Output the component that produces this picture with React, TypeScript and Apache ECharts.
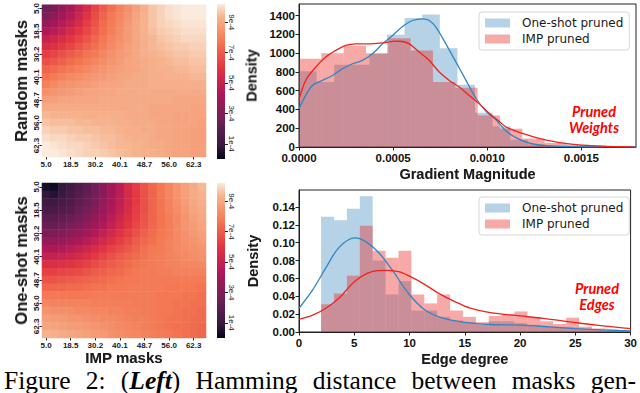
import React, { useEffect, useRef } from 'react';
import * as echarts from 'echarts';

// ---------- Heatmaps (values in units of 1e-5) ----------
const SPARSITY = ['5.0', '9.8', '14.3', '18.5', '22.6', '26.5', '30.2', '33.7', '37.0', '40.1', '43.1', '46.0', '48.7', '51.2', '53.7', '56.0', '58.2', '60.3', '62.3', '64.2'];

const HEAT_RANDOM = [
  [25, 29, 35, 41, 49, 56, 64, 70, 75, 80, 84, 88, 92, 96, 98, 100, 101, 102, 103, 103],
  [30, 34, 39, 45, 52, 59, 66, 72, 77, 81, 85, 89, 93, 96, 98, 100, 101, 102, 102, 102],
  [36, 40, 45, 50, 56, 62, 68, 74, 78, 82, 86, 90, 93, 96, 98, 99, 100, 101, 101, 101],
  [43, 46, 50, 55, 60, 65, 70, 75, 79, 83, 87, 90, 93, 95, 97, 98, 99, 100, 100, 100],
  [50, 53, 56, 60, 64, 68, 73, 77, 81, 84, 87, 90, 92, 94, 96, 97, 98, 99, 99, 99],
  [56, 58, 61, 64, 68, 72, 75, 79, 82, 85, 88, 90, 92, 94, 95, 96, 97, 97, 98, 98],
  [62, 64, 67, 70, 73, 76, 78, 81, 84, 86, 88, 90, 92, 93, 94, 95, 96, 96, 97, 97],
  [67, 69, 71, 74, 76, 79, 81, 83, 85, 87, 89, 90, 91, 92, 93, 94, 95, 95, 96, 96],
  [72, 74, 76, 78, 80, 82, 84, 85, 87, 88, 89, 90, 91, 92, 93, 93, 94, 94, 95, 95],
  [76, 78, 80, 82, 83, 85, 86, 87, 88, 89, 90, 91, 91, 92, 92, 93, 93, 93, 94, 94],
  [80, 82, 84, 85, 86, 87, 88, 89, 89, 90, 91, 91, 91, 92, 92, 92, 92, 92, 92, 92],
  [84, 85, 86, 87, 88, 89, 89, 90, 90, 91, 91, 91, 91, 91, 91, 91, 91, 91, 91, 91],
  [88, 88, 89, 89, 90, 90, 90, 91, 91, 91, 91, 91, 91, 91, 91, 91, 90, 90, 90, 90],
  [91, 91, 91, 91, 91, 91, 91, 91, 91, 91, 91, 91, 91, 90, 90, 90, 90, 90, 89, 89],
  [94, 93, 93, 93, 93, 92, 92, 92, 92, 92, 91, 91, 91, 90, 90, 90, 89, 89, 89, 89],
  [96, 95, 95, 95, 94, 94, 93, 93, 93, 92, 92, 91, 91, 91, 90, 90, 89, 89, 89, 88],
  [98, 97, 97, 96, 96, 95, 95, 94, 94, 93, 92, 92, 91, 91, 90, 90, 89, 89, 88, 88],
  [100, 99, 99, 98, 97, 97, 96, 95, 95, 94, 93, 92, 92, 91, 90, 90, 89, 89, 88, 88],
  [102, 101, 100, 99, 99, 98, 97, 96, 95, 94, 94, 93, 92, 91, 91, 90, 89, 89, 88, 88],
  [103, 102, 101, 100, 99, 98, 98, 97, 96, 95, 94, 93, 92, 92, 91, 90, 89, 89, 88, 88],
];

const HEAT_ONESHOT = [
  [3, 2, 8, 12, 16, 20, 26, 32, 40, 47, 56, 62, 68, 73, 77, 81, 85, 88, 91, 94],
  [8, 6, 10, 14, 18, 22, 27, 33, 40, 47, 55, 61, 67, 72, 77, 81, 85, 88, 91, 93],
  [12, 11, 13, 16, 20, 24, 29, 35, 41, 48, 55, 61, 67, 72, 76, 80, 84, 87, 90, 92],
  [15, 15, 17, 19, 23, 27, 32, 37, 43, 49, 56, 62, 67, 72, 76, 80, 83, 86, 89, 91],
  [19, 19, 21, 23, 26, 30, 35, 40, 46, 52, 58, 63, 68, 72, 76, 79, 82, 85, 88, 90],
  [23, 23, 25, 28, 31, 35, 39, 44, 49, 55, 60, 65, 69, 73, 76, 79, 82, 85, 87, 89],
  [29, 29, 31, 33, 36, 40, 44, 49, 54, 59, 63, 67, 71, 74, 77, 79, 82, 84, 86, 88],
  [36, 36, 37, 39, 42, 46, 50, 54, 58, 62, 66, 70, 73, 75, 78, 80, 82, 84, 85, 87],
  [43, 43, 44, 46, 49, 52, 56, 59, 63, 66, 69, 72, 75, 77, 78, 80, 82, 83, 84, 85],
  [50, 50, 51, 53, 55, 58, 61, 64, 67, 70, 72, 74, 76, 78, 79, 80, 81, 82, 83, 84],
  [57, 57, 58, 59, 61, 63, 66, 68, 70, 72, 74, 76, 77, 78, 79, 80, 80, 81, 81, 82],
  [63, 63, 64, 65, 66, 68, 70, 71, 73, 74, 76, 77, 78, 78, 79, 79, 80, 80, 80, 80],
  [68, 68, 69, 70, 71, 72, 73, 74, 75, 76, 77, 77, 78, 78, 78, 78, 78, 78, 78, 78],
  [73, 73, 73, 74, 74, 75, 76, 76, 77, 77, 78, 78, 78, 78, 78, 77, 77, 77, 77, 76],
  [77, 77, 77, 77, 77, 77, 78, 78, 78, 78, 78, 78, 78, 78, 77, 77, 77, 76, 76, 75],
  [81, 80, 80, 80, 80, 80, 79, 79, 79, 79, 79, 78, 78, 78, 77, 77, 76, 76, 75, 75],
  [85, 84, 83, 83, 82, 82, 81, 81, 80, 80, 79, 79, 78, 78, 77, 77, 76, 75, 75, 74],
  [88, 87, 86, 85, 85, 84, 83, 82, 82, 81, 80, 79, 79, 78, 77, 76, 76, 75, 74, 74],
  [90, 89, 88, 87, 87, 86, 85, 84, 83, 82, 81, 80, 79, 78, 77, 76, 75, 75, 74, 73],
  [93, 92, 91, 90, 89, 88, 87, 86, 84, 83, 82, 81, 80, 79, 78, 77, 76, 75, 74, 73],
];

const COLOR_RANGE = [0, 10.2]; // colour bar range, units of 1e-4
const COLORBAR_TICKS = [1, 3, 5, 7, 9];
const ROCKET = ['#03051a', '#35193e', '#521c4a', '#701f57', '#8e1b58', '#ad1759', '#c7254f', '#e13342', '#ea5449', '#f37651', '#f49570', '#f6b48f', '#faebdd'];

// ---------- Gradient magnitude histogram ----------
const GRAD_BLUE_STEP = 0.0000935;
const GRAD_BLUE_HIST = [809, 692, 877, 877, 994, 1196, 1377, 1413, 1054, 664, 366, 220, 78, 28, 10];
const GRAD_RED_STEP = 0.0001186;
const GRAD_RED_HIST = [941, 1001, 1080, 1000, 1160, 1030, 692, 632, 337, 195, 90, 43, 25, 14, 7];
const GRAD_BLUE_KDE = [[0, 408], [0.0000356, 550], [0.0000712, 657], [0.000124, 710], [0.000178, 763], [0.000231, 834], [0.000284, 888], [0.000337, 923], [0.00039, 994], [0.000444, 1100], [0.000497, 1190], [0.00055, 1285], [0.000603, 1349], [0.000656, 1367], [0.000692, 1349], [0.000727, 1278], [0.00078, 1100], [0.000834, 905], [0.000887, 710], [0.00094, 520], [0.000993, 380], [0.001046, 290], [0.0011, 170], [0.001157, 95], [0.001227, 40], [0.001316, 14], [0.001458, 4], [0.00163, 1], [0.00179, 0]];
const GRAD_RED_KDE = [[0, 504], [0.0000356, 710], [0.0000888, 852], [0.000142, 959], [0.000195, 1030], [0.000248, 1083], [0.000302, 1100], [0.000373, 1100], [0.000444, 1111], [0.000515, 1129], [0.00055, 1125], [0.000586, 1100], [0.000639, 1012], [0.000692, 923], [0.000745, 799], [0.000798, 710], [0.000851, 639], [0.000904, 550], [0.000958, 460], [0.00101, 360], [0.00106, 280], [0.0011, 213], [0.001192, 142], [0.00128, 89], [0.001369, 53], [0.001458, 28], [0.001547, 14], [0.001635, 7], [0.00178, 2]];
const GRAD_X_MAX = 0.00179;
const GRAD_Y_MAX = 1525;

// ---------- Edge degree histogram ----------
const EDGE_START = 2;
const EDGE_STEP = 1.1667;
const EDGE_BLUE_HIST = [0.129, 0.125, 0.138, 0.152, 0.080, 0.042, 0.057, 0.024, 0.024, 0.017, 0.013, 0.011, 0.008, 0.012, 0.012, 0.010, 0.008, 0.006, 0.005, 0.005, 0.004, 0.003, 0.002, 0.001];
const EDGE_RED_HIST = [0.031, 0.043, 0.063, 0.119, 0.091, 0.083, 0.091, 0.042, 0.032, 0.042, 0.024, 0.017, 0.011, 0.018, 0.020, 0.023, 0.017, 0.012, 0.009, 0.016, 0.006, 0.004, 0.003, 0.002];
const EDGE_BLUE_KDE = [[0, 0.0266], [1.25, 0.0474], [2.44, 0.072], [3.63, 0.0948], [5.06, 0.1053], [6.0, 0.1015], [7.2, 0.089], [8.4, 0.070], [10.0, 0.0417], [11.4, 0.0247], [13.1, 0.0152], [15, 0.0107], [17.3, 0.0084], [20, 0.0076], [22.7, 0.0057], [25, 0.0038], [27.4, 0.0023], [30, 0.0011]];
const EDGE_RED_KDE = [[0, 0.0144], [1.25, 0.019], [2.44, 0.0266], [3.63, 0.038], [5.06, 0.0568], [6.6, 0.0675], [7.8, 0.069], [9.0, 0.0675], [10.0, 0.0625], [11.4, 0.053], [12.6, 0.0436], [14.1, 0.034], [15.5, 0.0266], [17.3, 0.0216], [20, 0.018], [22.1, 0.0152], [24.5, 0.0114], [26.9, 0.0076], [30, 0.0038]];
const EDGE_X_MAX = 30;
const EDGE_Y_MAX = 0.159;

const LEGEND_NAMES = ['One-shot pruned', 'IMP pruned'];
const CAPTION_WORDS: { t: string; bi?: boolean }[][] = [
  [{ t: 'Figure' }], [{ t: '2:' }], [{ t: '(' }, { t: 'Left', bi: true }, { t: ')' }], [{ t: 'Hamming' }],
  [{ t: 'distance' }], [{ t: 'between' }], [{ t: 'masks' }], [{ t: 'gen-' }],
];

const BLUE_FILL = 'rgba(31,119,180,0.33)';
const RED_FILL = 'rgba(234,40,35,0.40)';
const BLUE_LINE = '#2f86c4';
const RED_LINE = '#f0221c';
const SANS = '"Liberation Sans", Arial, sans-serif';
const SERIF = '"Liberation Serif", "Times New Roman", serif';

const toBins = (start: number, step: number, vals: number[]) => vals.map((v, i) => [start + i * step, start + (i + 1) * step, v]);
const toCells = (rows: number[][]) => rows.flatMap((row, r) => row.map((v, c) => [c, r, v / 10]));

const histRender = (fill: string) => (params: any, api: any) => {
  const p0 = api.coord([api.value(0), api.value(2)]);
  const p1 = api.coord([api.value(1), 0]);
  return { type: 'rect', shape: { x: p0[0], y: p0[1], width: p1[0] - p0[0], height: p1[1] - p0[1] }, style: { fill } };
};

const nameStyle = (size: number) => ({ fontFamily: SANS, fontWeight: 'bold' as const, fontSize: size, color: '#1a1a1a', textShadowColor: 'rgba(0,0,0,0.35)', textShadowBlur: 1.5 });

export default function App() {
  const ref = useRef<HTMLDivElement>(null);
  useEffect(() => {
    if (!ref.current) return;
    const chart = echarts.init(ref.current, undefined, { renderer: 'svg' });

    const heatGrids = [{ left: 42, top: 4, width: 164, height: 153 }, { left: 42, top: 183, width: 164, height: 155 }];
    const cbGrids = [{ left: 217, top: 4, width: 8, height: 155 }, { left: 217, top: 183, width: 8, height: 155 }];
    const histGrids = [
      { left: 299, top: 4, width: 337, height: 143, show: true, borderColor: '#222', borderWidth: 1 },
      { left: 299, top: 190, width: 337, height: 142, show: true, borderColor: '#222', borderWidth: 1 },
    ];

    const heatX = (gi: number, name?: string) => ({
      type: 'category', gridIndex: gi, data: SPARSITY, position: 'bottom',
      axisLine: { show: false }, splitLine: { show: false },
      axisTick: { show: true, interval: 2, alignWithLabel: true, length: 2.5, lineStyle: { color: '#222' } },
      axisLabel: { interval: 2, fontSize: 8, fontWeight: 'bold', fontFamily: SANS, color: '#1a1a1a', margin: 3 },
      name: name || '', nameLocation: 'middle', nameGap: 11, nameTextStyle: nameStyle(15),
    });
    const heatY = (gi: number, name: string) => ({
      type: 'category', gridIndex: gi, data: SPARSITY, inverse: true,
      axisLine: { show: false }, splitLine: { show: false },
      axisTick: { show: true, interval: 2, alignWithLabel: true, length: 2.5, lineStyle: { color: '#222' } },
      axisLabel: { interval: 2, rotate: 90, fontSize: 8, fontWeight: 'bold', fontFamily: SANS, color: '#1a1a1a', margin: 2 },
      name, nameLocation: 'middle', nameGap: 13, nameRotate: 90, nameTextStyle: nameStyle(16.5),
    });
    const cbX = (gi: number) => ({ type: 'category', gridIndex: gi, data: [''], show: false });
    const cbY = (gi: number) => ({
      type: 'value', gridIndex: gi, position: 'right', min: COLOR_RANGE[0], max: COLOR_RANGE[1],
      axisLine: { show: false }, splitLine: { show: false },
      axisTick: { show: true, customValues: COLORBAR_TICKS, length: 3, lineStyle: { color: '#222' } },
      axisLabel: { customValues: COLORBAR_TICKS, rotate: -90, fontSize: 8, fontFamily: SANS, color: '#1a1a1a', margin: 2, formatter: (v: number) => `${v}e-4` },
    });
    const tickLabel = { fontFamily: SANS, fontWeight: 'bold', fontSize: 11.5, color: '#111' };
    const histX = (gi: number, max: number, interval: number, name: string, fmt: (v: number) => string) => ({
      type: 'value', gridIndex: gi, min: 0, max, interval,
      axisLine: { show: true, lineStyle: { color: '#222', width: 1 } },
      axisTick: { show: true, length: 3.5, lineStyle: { color: '#222' } },
      splitLine: { show: false },
      axisLabel: { ...tickLabel, margin: 5, showMaxLabel: gi === 5, formatter: fmt },
      name, nameLocation: 'middle', nameGap: 19, nameTextStyle: nameStyle(14.5),
    });
    const histY = (gi: number, max: number, interval: number, fmt: (v: number) => string) => ({
      type: 'value', gridIndex: gi, min: 0, max, interval,
      axisLine: { show: true, lineStyle: { color: '#222', width: 1 } },
      axisTick: { show: true, length: 3.5, lineStyle: { color: '#222' } },
      splitLine: { show: false },
      axisLabel: { ...tickLabel, margin: 4, showMaxLabel: false, formatter: fmt },
      name: 'Density', nameLocation: 'middle', nameGap: 39, nameRotate: 90, nameTextStyle: nameStyle(14.5),
    });

    const cbGradient = new echarts.graphic.LinearGradient(0, 1, 0, 0, ROCKET.map((c, i) => ({ offset: i / (ROCKET.length - 1), color: c })));

    const hist = (name: string, gi: number, bins: number[][], fill: string) => ({
      type: 'custom', name, xAxisIndex: gi, yAxisIndex: gi, data: bins, encode: { x: [0, 1], y: 2 },
      renderItem: histRender(fill), itemStyle: { color: fill }, z: 2, silent: true,
    });
    const kde = (name: string, gi: number, data: number[][], color: string) => ({
      type: 'line', name, xAxisIndex: gi, yAxisIndex: gi, data, smooth: 0.35, showSymbol: false,
      lineStyle: { color, width: 1.3 }, itemStyle: { color }, z: 4, silent: true,
    });

    const legend = (top: number) => ({
      orient: 'vertical', left: 479, top, itemWidth: 25, itemHeight: 9, itemGap: 4,
      padding: [5, 6, 5, 6], borderColor: '#d6d6d6', borderWidth: 1, borderRadius: 3,
      backgroundColor: 'rgba(255,255,255,0.85)', selectedMode: false,
      textStyle: { fontFamily: '"DejaVu Sans", sans-serif', fontSize: 12, color: '#1a1a1a', padding: [0, 0, 0, 7] },
      data: [
        { name: LEGEND_NAMES[0], icon: 'rect', itemStyle: { color: BLUE_FILL } },
        { name: LEGEND_NAMES[1], icon: 'rect', itemStyle: { color: RED_FILL } },
      ],
    });

    // caption words, justified across the width
    const ctx = document.createElement('canvas').getContext('2d')!;
    const CAP = 25.5;
    const fontOf = (bi?: boolean) => `${bi ? 'italic bold ' : ''}${CAP}px ${SERIF}`;
    const widths = CAPTION_WORDS.map((w) => w.map((s) => { ctx.font = fontOf(s.bi); return ctx.measureText(s.t).width; }));
    const total = widths.reduce((a, w) => a + w.reduce((b, x) => b + x, 0), 0);
    const gap = (636 - 4 - total) / (CAPTION_WORDS.length - 1);
    const captionEls: any[] = [];
    let cx = 4;
    CAPTION_WORDS.forEach((w, wi) => {
      w.forEach((s, si) => {
        captionEls.push({
          type: 'text', x: cx, y: 380, silent: true,
          style: { text: s.t, font: fontOf(s.bi), fill: '#000', align: 'left', verticalAlign: 'middle', textAlign: 'left', textVerticalAlign: 'middle' },
        });
        cx += widths[wi][si];
      });
      cx += gap;
    });

    const annot = (x: number, y: number, text: string) => ({
      type: 'text', x, y, silent: true,
      style: { text, fill: '#ff0000', font: `italic bold 14.5px Lato, "Open Sans", sans-serif`, align: 'center', verticalAlign: 'middle', textAlign: 'center', textVerticalAlign: 'middle', lineHeight: 16 },
    });

    chart.setOption({
      animation: false,
      textStyle: { fontFamily: SANS },
      grid: [heatGrids[0], cbGrids[0], heatGrids[1], cbGrids[1], histGrids[0], histGrids[1]],
      xAxis: [
        heatX(0), cbX(1), heatX(2, 'IMP masks'), cbX(3),
        histX(4, GRAD_X_MAX, 0.0005, 'Gradient Magnitude', (v) => v.toFixed(4)),
        histX(5, EDGE_X_MAX, 5, 'Edge degree', (v) => String(v)),
      ],
      yAxis: [
        heatY(0, 'Random masks'), cbY(1), heatY(2, 'One-shot masks'), cbY(3),
        histY(4, GRAD_Y_MAX, 200, (v) => String(v)),
        histY(5, EDGE_Y_MAX, 0.02, (v) => v.toFixed(2)),
      ],
      visualMap: {
        type: 'continuous', show: false, seriesIndex: [0, 2], dimension: 2,
        min: COLOR_RANGE[0], max: COLOR_RANGE[1], inRange: { color: ROCKET },
      },
      legend: [legend(12), legend(197)],
      series: [
        { type: 'heatmap', xAxisIndex: 0, yAxisIndex: 0, data: toCells(HEAT_RANDOM), itemStyle: { borderWidth: 0 }, silent: true },
        { type: 'bar', xAxisIndex: 1, yAxisIndex: 1, data: [COLOR_RANGE[1]], barWidth: '100%', itemStyle: { color: cbGradient }, silent: true },
        { type: 'heatmap', xAxisIndex: 2, yAxisIndex: 2, data: toCells(HEAT_ONESHOT), itemStyle: { borderWidth: 0 }, silent: true },
        { type: 'bar', xAxisIndex: 3, yAxisIndex: 3, data: [COLOR_RANGE[1]], barWidth: '100%', itemStyle: { color: cbGradient }, silent: true },
        hist(LEGEND_NAMES[0], 4, toBins(0, GRAD_BLUE_STEP, GRAD_BLUE_HIST), BLUE_FILL),
        hist(LEGEND_NAMES[1], 4, toBins(0, GRAD_RED_STEP, GRAD_RED_HIST), RED_FILL),
        kde('One-shot KDE (grad)', 4, GRAD_BLUE_KDE, BLUE_LINE),
        kde('IMP KDE (grad)', 4, GRAD_RED_KDE, RED_LINE),
        hist(LEGEND_NAMES[0], 5, toBins(EDGE_START, EDGE_STEP, EDGE_BLUE_HIST), BLUE_FILL),
        hist(LEGEND_NAMES[1], 5, toBins(EDGE_START, EDGE_STEP, EDGE_RED_HIST), RED_FILL),
        kde('One-shot KDE (edge)', 5, EDGE_BLUE_KDE, BLUE_LINE),
        kde('IMP KDE (edge)', 5, EDGE_RED_KDE, RED_LINE),
      ],
      graphic: [
        annot(594, 119, 'Pruned\nWeights'),
        annot(597, 296, 'Pruned\nEdges'),
        ...captionEls,
      ],
    });
    return () => chart.dispose();
  }, []);
  return <div ref={ref} style={{ position: 'fixed', left: 0, top: 0, width: 640, height: 393, background: '#fff' }} />;
}
